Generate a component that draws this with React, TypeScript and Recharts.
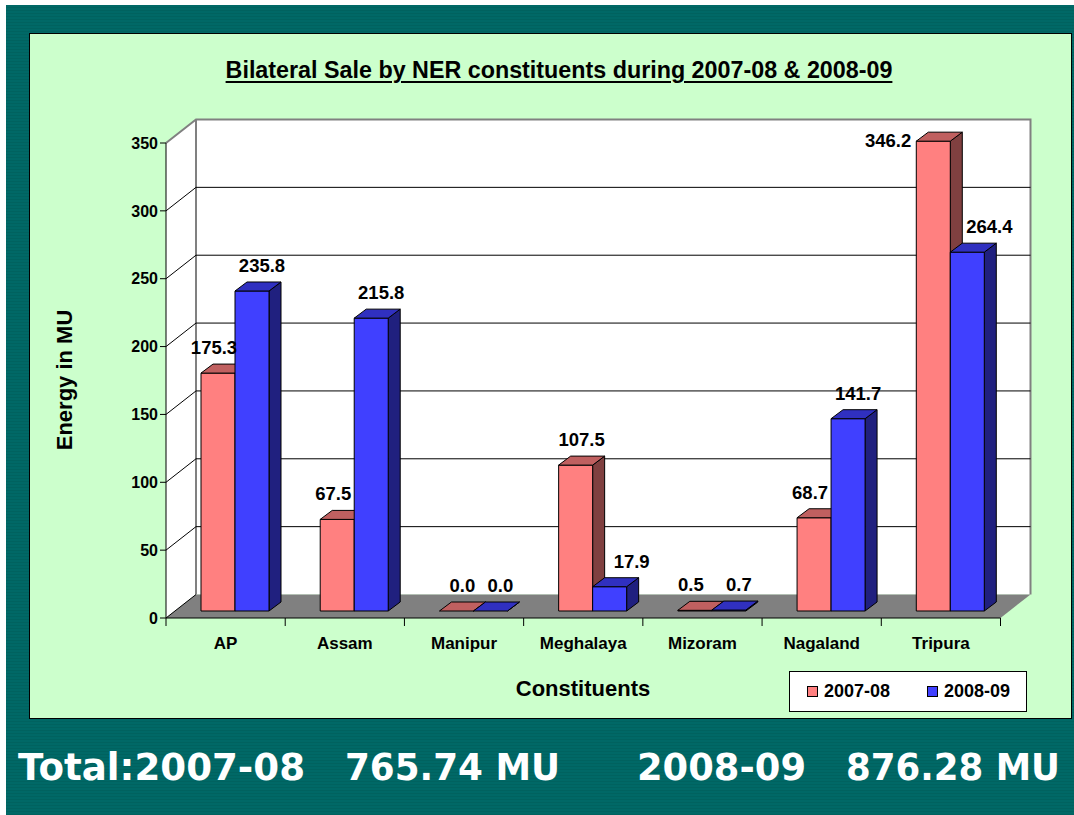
import React from "react";
import {
  BarChart,
  Bar,
  XAxis,
  YAxis,
  CartesianGrid,
  LabelList,
  Legend,
} from "recharts";

// values
const categories = ["AP", "Assam", "Manipur", "Meghalaya", "Mizoram", "Nagaland", "Tripura"];
const sale0708 = [175.3, 67.5, 0.0, 107.5, 0.5, 68.7, 346.2];
const sale0809 = [235.8, 215.8, 0.0, 17.9, 0.7, 141.7, 264.4];
const seriesNames = ["2007-08", "2008-09"];
const yTicks = [0, 50, 100, 150, 200, 250, 300, 350];
const totalLabels = ["Total:2007-08", "765.74 MU", "2008-09", "876.28 MU"];

const data = categories.map((name, i) => ({
  name,
  a: sale0708[i],
  b: sale0809[i],
}));

const W = 1074;
const H = 815;
// plane where the bars stand
const PL = 175;
const PR = 1009.5;
const PT = 136;
const PB = 611;
// front (axis) plane and back wall offsets
const FDX = -9;
const FDY = 7;
const BDX = 21;
const BDY = -16.5;
// bar depth
const DX = 12;
const DY = 9;

const FONT = '"Liberation Sans", Arial, sans-serif';
const PINK = ["#FF8080", "#C06060", "#804040"];
const BLUE = ["#4040FF", "#3030C0", "#20207F"];

const band = (PR - PL) / categories.length;

const Bar3D = (props: any) => {
  const { x, y, width, height, colors } = props;
  if (x == null || y == null) return null;
  const h = Math.max(0, height || 0);
  const w = width;
  return (
    <g stroke="#000" strokeWidth={1} strokeLinejoin="round">
      <polygon
        points={`${x + w},${y} ${x + w + DX},${y - DY} ${x + w + DX},${y + h - DY} ${x + w},${y + h}`}
        fill={colors[2]}
      />
      <rect x={x} y={y} width={w} height={h} fill={colors[0]} />
      <polygon
        points={`${x},${y} ${x + DX},${y - DY} ${x + w + DX},${y - DY} ${x + w},${y}`}
        fill={colors[1]}
      />
    </g>
  );
};

const gridLine = (props: any) => {
  const y = props.y1;
  if (Math.abs(y - PB) < 1 || Math.abs(y - PT) < 1) return <g key={props.key} />;
  return (
    <g key={props.key}>
      <line x1={PL + BDX} y1={y + BDY} x2={PR + BDX} y2={y + BDY} stroke="#000" strokeWidth={1} />
      <line x1={PL + FDX} y1={y + FDY} x2={PL + BDX} y2={y + BDY} stroke="#000" strokeWidth={1} />
    </g>
  );
};

const YTick = (props: any) => {
  const { y, payload } = props;
  const fy = y + FDY;
  const ax = PL + FDX;
  return (
    <g>
      <line x1={ax - 6} y1={fy} x2={ax} y2={fy} stroke="#000" />
      <text
        x={ax - 8}
        y={fy}
        dy="0.36em"
        textAnchor="end"
        fontFamily={FONT}
        fontWeight="bold"
        fontSize={16}
        fill="#000"
      >
        {payload.value}
      </text>
    </g>
  );
};

const XTick = (props: any) => {
  const { x, payload } = props;
  const idx = categories.indexOf(payload.value);
  const fx = x + FDX;
  const by = PB + FDY;
  const left = fx - band / 2;
  return (
    <g>
      <line x1={left} y1={by} x2={left} y2={by + 8} stroke="#000" />
      {idx === categories.length - 1 && (
        <line x1={left + band} y1={by} x2={left + band} y2={by + 8} stroke="#000" />
      )}
      <text
        x={fx}
        y={by + 25}
        dy="0.36em"
        textAnchor="middle"
        fontFamily={FONT}
        fontWeight="bold"
        fontSize={17}
        fill="#000"
      >
        {payload.value}
      </text>
    </g>
  );
};

const makeLabel = (series: number) => (props: any) => {
  const { x, y, width, value } = props;
  let index = props.index;
  const own = series === 0 ? sale0708 : sale0809;
  const other = series === 0 ? sale0809 : sale0708;
  if (index == null) index = own.indexOf(Number(value));
  let cx = x + width / 2 + DX / 2;
  let by = y - 19;
  let anchor: any = "middle";
  if (series === 0 && other[index] > own[index]) cx -= 10;
  if (series === 1) cx += other[index] > own[index] ? 16 : 4;
  if (by < PT) {
    anchor = "end";
    cx = x - 5;
    by = y + 6;
  }
  return (
    <text
      x={cx}
      y={by}
      textAnchor={anchor}
      fontFamily={FONT}
      fontWeight="bold"
      fontSize={18.5}
      fill="#000"
    >
      {Number(value).toFixed(1)}
    </text>
  );
};

const LegendBox = () => {
  const colors = [PINK[0], BLUE[0]];
  return (
    <div
      style={{
        position: "relative",
        width: 238,
        height: 41,
        background: "#fff",
        border: "1px solid #000",
        boxSizing: "border-box",
        fontFamily: FONT,
        fontWeight: "bold",
        fontSize: 18,
      }}
    >
      {seriesNames.map((n, i) => (
        <React.Fragment key={n}>
          <div
            style={{
              position: "absolute",
              left: 17 + i * 120,
              top: 14,
              width: 11,
              height: 11,
              background: colors[i],
              border: "1px solid #000",
              boxSizing: "border-box",
            }}
          />
          <div
            style={{
              position: "absolute",
              left: 34 + i * 120,
              top: 9,
              lineHeight: "21px",
              whiteSpace: "nowrap",
            }}
          >
            {n}
          </div>
        </React.Fragment>
      ))}
    </div>
  );
};

const Decor = () => {
  const fl = PL + FDX;
  const fr = PR + FDX;
  const bl = PL + BDX;
  const br = PR + BDX;
  return (
    <svg
      width={W}
      height={H}
      style={{ position: "absolute", left: 0, top: 0 }}
    >
      <polygon
        points={`${fl},${PB + FDY} ${fl},${PT + FDY} ${bl},${PT + BDY} ${bl},${PB + BDY}`}
        fill="#fff"
      />
      <rect x={bl} y={PT + BDY} width={br - bl} height={PB - PT} fill="#fff" />
      <polygon
        points={`${fl},${PB + FDY} ${fr},${PB + FDY} ${br},${PB + BDY} ${bl},${PB + BDY}`}
        fill="#808080"
      />
      <polyline
        points={`${fl},${PT + FDY} ${bl},${PT + BDY} ${br},${PT + BDY} ${br},${PB + BDY}`}
        fill="none"
        stroke="#808080"
        strokeWidth={2}
      />
      <line x1={bl} y1={PT + BDY} x2={bl} y2={PB + BDY} stroke="#808080" strokeWidth={2} />
      <line x1={fl} y1={PB + FDY} x2={bl} y2={PB + BDY} stroke="#000" />
      <line x1={fl} y1={PT + FDY} x2={fl} y2={PB + FDY} stroke="#000" />
      <line x1={fl} y1={PB + FDY} x2={fr} y2={PB + FDY} stroke="#000" />
    </svg>
  );
};

const totalX = [18, 345, 637, 846];
const totalLen = [287, 215, 169, 214];

const App = () => {
  return (
    <div
      style={{
        position: "absolute",
        left: 0,
        top: 0,
        width: W,
        height: H,
        background: "#fff",
        overflow: "hidden",
      }}
    >
      <div
        style={{
          position: "absolute",
          left: 6,
          top: 5,
          width: W - 6,
          height: H - 5,
          background:
            "repeating-linear-gradient(180deg, #006866 0px, #006866 2px, #00625f 2px, #00625f 3px)",
        }}
      />
      <div
        style={{
          position: "absolute",
          left: 29,
          top: 33,
          width: 1043,
          height: 686,
          background: "#CCFFCC",
          border: "1px solid #000",
          boxSizing: "border-box",
        }}
      />
      <Decor />
      <div style={{ position: "absolute", left: 0, top: 0 }}>
        <BarChart
          width={W}
          height={H}
          data={data}
          margin={{ top: PT, left: PL - 1, right: W - PR, bottom: H - PB - 1 }}
          barGap={0}
          barSize={34}
        >
          <CartesianGrid vertical={false} horizontal={gridLine} />
          <XAxis
            dataKey="name"
            height={1}
            axisLine={false}
            tickLine={false}
            interval={0}
            tick={<XTick />}
          />
          <YAxis
            width={1}
            domain={[0, 350]}
            ticks={yTicks}
            interval={0}
            axisLine={false}
            tickLine={false}
            tick={<YTick />}
          />
          <Legend
            verticalAlign="middle"
            align="center"
            layout="horizontal"
            content={<LegendBox />}
            wrapperStyle={{ position: "absolute", left: 789, top: 671, width: 238, height: 41 }}
          />
          <Bar
            dataKey="a"
            name={seriesNames[0]}
            fill={PINK[0]}
            isAnimationActive={false}
            shape={(p: any) => <Bar3D {...p} colors={PINK} />}
          >
            <LabelList dataKey="a" content={makeLabel(0)} />
          </Bar>
          <Bar
            dataKey="b"
            name={seriesNames[1]}
            fill={BLUE[0]}
            isAnimationActive={false}
            shape={(p: any) => <Bar3D {...p} colors={BLUE} />}
          >
            <LabelList dataKey="b" content={makeLabel(1)} />
          </Bar>
        </BarChart>
      </div>
      <div
        style={{
          position: "absolute",
          left: 0,
          top: 56,
          width: 1118,
          textAlign: "center",
          fontFamily: FONT,
          fontWeight: "bold",
          fontSize: 23.3,
          lineHeight: "28px",
          textDecoration: "underline",
          textDecorationThickness: 2,
          textUnderlineOffset: 3,
          whiteSpace: "nowrap",
          color: "#000",
        }}
      >
        Bilateral Sale by NER constituents during 2007-08 &amp; 2008-09
      </div>
      <svg
        width={W}
        height={H}
        style={{ position: "absolute", left: 0, top: 0, pointerEvents: "none" }}
      >
        <text
          x={0}
          y={0}
          transform="translate(72,380) rotate(-90)"
          textAnchor="middle"
          fontFamily={FONT}
          fontWeight="bold"
          fontSize={22}
          fill="#000"
        >
          Energy in MU
        </text>
        <text
          x={583}
          y={696}
          textAnchor="middle"
          fontFamily={FONT}
          fontWeight="bold"
          fontSize={22}
          fill="#000"
        >
          Constituents
        </text>
        {totalLabels.map((t, i) => (
          <text
            key={t}
            x={totalX[i]}
            y={780}
            textLength={totalLen[i]}
            lengthAdjust="spacingAndGlyphs"
            fontFamily='"DejaVu Sans", Verdana, sans-serif'
            fontWeight="bold"
            fontSize={37}
            fill="#fff"
          >
            {t}
          </text>
        ))}
      </svg>
    </div>
  );
};

export default App;
